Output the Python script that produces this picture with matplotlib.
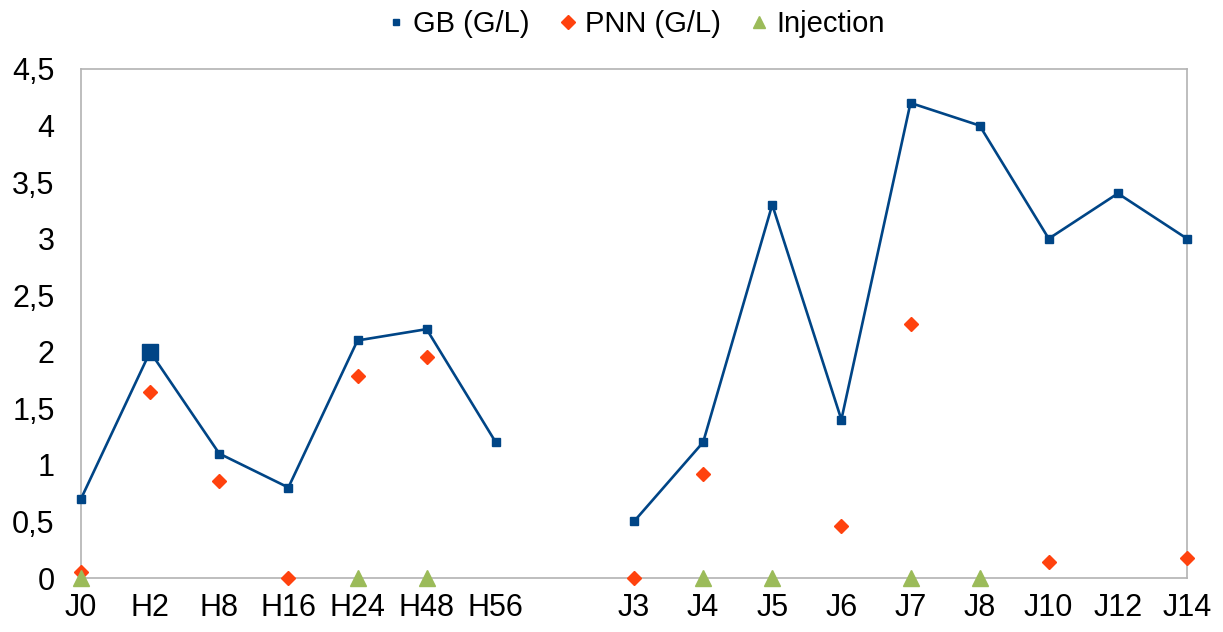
import matplotlib
matplotlib.use("Agg")
import matplotlib.pyplot as plt
import numpy as np

categories = ["J0", "H2", "H8", "H16", "H24", "H48", "H56", "",
              "J3", "J4", "J5", "J6", "J7", "J8", "J10", "J12", "J14"]
nan = np.nan
gb = [0.7, 2.0, 1.1, 0.8, 2.1, 2.2, 1.2, nan,
      0.5, 1.2, 3.3, 1.4, 4.2, 4.0, 3.0, 3.4, 3.0]
pnn = [0.05, 1.64, 0.86, 0.0, 1.79, 1.95, nan, nan,
       0.0, 0.92, nan, 0.46, 2.25, nan, 0.14, nan, 0.18]
injection = [0, nan, nan, nan, 0, 0, nan, nan,
             nan, 0, 0, nan, 0, 0, nan, nan, nan]
yticks = [0, 0.5, 1, 1.5, 2, 2.5, 3, 3.5, 4, 4.5]
ytick_labels = ["0", "0,5", "1", "1,5", "2", "2,5", "3", "3,5", "4", "4,5"]

plt.rcParams['font.family'] = ['Liberation Sans', 'DejaVu Sans']

fig = plt.figure(figsize=(12.23, 6.32), dpi=100)
ax = fig.add_axes([81/1223, 1-578/632, (1187-81)/1223, (578-69)/632])

x = np.arange(len(categories))
c_gb = "#004586"
c_pnn = "#ff420e"
c_inj = "#9bbb59"

ax.plot(x, gb, color=c_gb, lw=1.9, marker="s", ms=5.5, label="GB (G/L)",
        zorder=3, clip_on=False)
# emphasised H2 point
ax.plot([x[1]], [gb[1]], color=c_gb, marker="s", ms=11, ls="none", zorder=4)
ax.plot(x, pnn, color=c_pnn, ls="none", marker="D", ms=7.5, label="PNN (G/L)",
        zorder=3, clip_on=False)
ax.plot(x, injection, color=c_inj, ls="none", marker="^", ms=11, label="Injection",
        zorder=5, clip_on=False)

ax.set_xlim(0, len(categories) - 1)
ax.set_ylim(0, 4.5)
ax.set_xticks(x)
ax.set_xticklabels(categories)
ax.set_yticks(yticks)
ax.set_yticklabels(ytick_labels)
ax.tick_params(axis="both", length=0, labelsize=22, colors="black")
ax.tick_params(axis="y", pad=19)
ax.tick_params(axis="x", pad=11)
for s in ax.spines.values():
    s.set_color("#b3b3b3")
    s.set_linewidth(1.2)

handles = [
    plt.Line2D([], [], color=c_gb, marker="s", ls="none", ms=5),
    plt.Line2D([], [], color=c_pnn, marker="D", ls="none", ms=7),
    plt.Line2D([], [], color=c_inj, marker="^", ls="none", ms=9),
]
fig.legend(handles, ["GB (G/L)", "PNN (G/L)", "Injection"], loc="upper center",
           bbox_to_anchor=(0.52, 1.025), ncol=3, frameon=False, fontsize=21,
           handlelength=0.6, handletextpad=0.3, columnspacing=1.0)

fig.savefig("out.png", dpi=100)
